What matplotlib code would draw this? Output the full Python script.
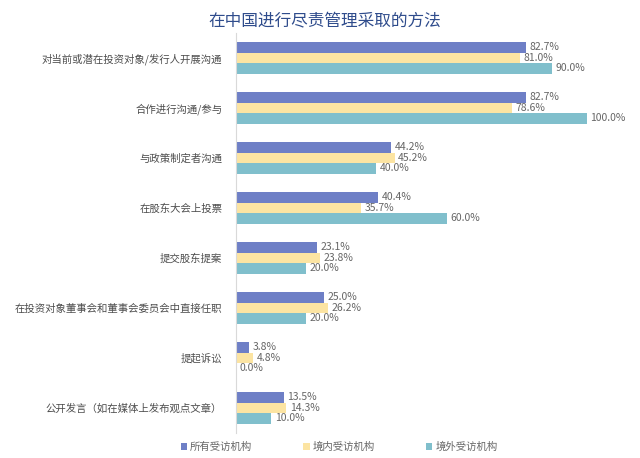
import numpy as np
import matplotlib.pyplot as plt

plt.rcParams['font.family'] = ['Noto Sans CJK SC', 'DejaVu Sans']

categories = ['对当前或潜在投资对象/发行人开展沟通', '合作进行沟通/参与', '与政策制定者沟通',
              '在股东大会上投票', '提交股东提案', '在投资对象董事会和董事会委员会中直接任职',
              '提起诉讼', '公开发言（如在媒体上发布观点文章）']
all_inst = [82.7, 82.7, 44.2, 40.4, 23.1, 25.0, 3.8, 13.5]
domestic = [81.0, 78.6, 45.2, 35.7, 23.8, 26.2, 4.8, 14.3]
overseas = [90.0, 100.0, 40.0, 60.0, 20.0, 20.0, 0.0, 10.0]
series_names = ['所有受访机构', '境内受访机构', '境外受访机构']
colors = ['#6E7FC6', '#FCE4A2', '#80BFCC']

fig = plt.figure(figsize=(6.4, 4.58), dpi=100)
ax = fig.add_axes([0.369, 0.055, 0.603, 0.873])

y = np.arange(len(categories))
h = 0.21
for i, (vals, name, c) in enumerate(zip([all_inst, domestic, overseas], series_names, colors)):
    pos = y + (i - 1) * h
    ax.barh(pos, vals, height=h, color=c, label=name)
    for p, v in zip(pos, vals):
        ax.text(v + 1, p, f'{v:.1f}%', va='center', ha='left', fontsize=7.5, color='#666666')

ax.set_ylim(len(categories) - 0.5, -0.5)
ax.set_xlim(0, 110)
ax.set_yticks(y)
ax.set_yticklabels(categories, fontsize=7.5, color='#4D4D4D')
ax.tick_params(axis='y', length=0, pad=10)
ax.set_xticks([])
for s in ['top', 'right', 'bottom']:
    ax.spines[s].set_visible(False)
ax.spines['left'].set_color('#D9D9D9')

fig.text(0.508, 0.952, '在中国进行尽责管理采取的方法', ha='center', va='center',
         fontsize=12, color='#2F4C8C', style='italic')

leg = fig.legend(loc='center', bbox_to_anchor=(0.53, 0.024), ncol=3, frameon=False,
                 fontsize=7.5, handlelength=0.6, handleheight=0.6, columnspacing=4.9, handletextpad=0.3)
for t in leg.get_texts():
    t.set_color('#666666')

plt.savefig('out.png', dpi=100)
